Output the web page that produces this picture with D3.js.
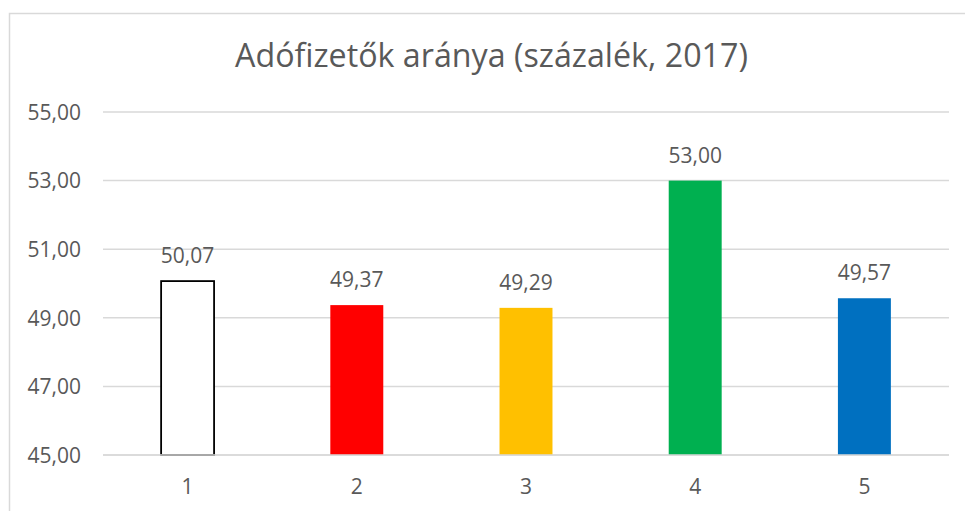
<!DOCTYPE html>
<html>
<head>
<meta charset="utf-8">
<script src="https://cdn.jsdelivr.net/npm/d3@7"></script>
<style>
  html, body { margin: 0; padding: 0; background: #fff; }
  svg { display: block; }
</style>
</head>
<body>
<svg id="chart" width="965" height="511"></svg>
<script>
const title = "Adófizetők aránya (százalék, 2017)";
const categories = ["1", "2", "3", "4", "5"];
const values = [50.07, 49.37, 49.29, 53.00, 49.57];
const barColors = ["#ffffff", "#ff0000", "#ffc000", "#00b050", "#0070c0"];
const barStrokes = ["#000000", "none", "none", "none", "none"];
const yTicks = [45, 47, 49, 51, 53, 55];

const W = 965, H = 511;
const font = "'Open Sans', 'Noto Sans', sans-serif";
const textColor = "#595959";
const gridColor = "#d9d9d9";
const fmt = v => d3.format(".2f")(v).replace(".", ",");

const svg = d3.select("#chart");

// chart border
svg.append("rect")
  .attr("x", 9.5).attr("y", 13.5)
  .attr("width", 975).attr("height", 520)
  .attr("fill", "#fff").attr("stroke", gridColor).attr("stroke-width", 1.5);

const plot = { left: 103, right: 949, top: 112, bottom: 455 };

const x = d3.scaleBand()
  .domain(categories)
  .range([plot.left, plot.right])
  .paddingInner(0.687)
  .paddingOuter(0.3435);

const y = d3.scaleLinear()
  .domain([45, 55])
  .range([plot.bottom, plot.top]);

// gridlines
svg.append("g")
  .selectAll("line").data(yTicks).join("line")
  .attr("x1", plot.left).attr("x2", plot.right)
  .attr("y1", d => y(d)).attr("y2", d => y(d))
  .attr("stroke", gridColor).attr("stroke-width", 1.5);

// y axis labels
const yAxis = d3.axisLeft(y).tickValues(yTicks).tickFormat(fmt).tickSize(0).tickPadding(0);
const yg = svg.append("g").attr("transform", `translate(81,0)`).call(yAxis);
yg.select(".domain").remove();
yg.selectAll("text")
  .attr("font-family", font).attr("font-size", 21).attr("fill", textColor)
  .attr("dy", "0.35em");

// bars
svg.append("g")
  .selectAll("rect").data(values).join("rect")
  .attr("x", (d, i) => x(categories[i]))
  .attr("y", d => y(d))
  .attr("width", x.bandwidth())
  .attr("height", d => y(45) - y(d))
  .attr("fill", (d, i) => barColors[i])
  .attr("stroke", (d, i) => barStrokes[i])
  .attr("stroke-width", 1.8);

// base line on top
svg.append("line")
  .attr("x1", plot.left).attr("x2", plot.right)
  .attr("y1", y(45)).attr("y2", y(45))
  .attr("stroke", gridColor).attr("stroke-width", 1.5);

// data labels
svg.append("g")
  .selectAll("text").data(values).join("text")
  .attr("x", (d, i) => x(categories[i]) + x.bandwidth() / 2)
  .attr("y", d => y(d) - 18)
  .attr("text-anchor", "middle")
  .attr("font-family", font).attr("font-size", 21).attr("fill", textColor)
  .text(d => fmt(d));

// x axis labels
const xAxis = d3.axisBottom(x).tickSize(0).tickPadding(0);
const xg = svg.append("g").attr("transform", `translate(0,494)`).call(xAxis);
xg.select(".domain").remove();
xg.selectAll("text")
  .attr("font-family", font).attr("font-size", 21).attr("fill", textColor)
  .attr("dy", 0).attr("y", 0);

// title
const t = svg.append("text")
  .attr("x", 491.5).attr("y", 67)
  .attr("text-anchor", "middle")
  .attr("font-family", font).attr("font-size", 30).attr("fill", textColor)
  .text(title);
const tw = t.node().getComputedTextLength();
t.attr("font-size", 30 * 513 / tw);
</script>
</body>
</html>
